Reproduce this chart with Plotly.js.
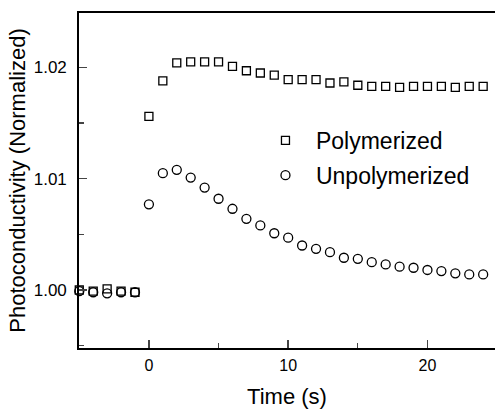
<!DOCTYPE html>
<html>
<head>
<meta charset="utf-8">
<script src="https://cdn.plot.ly/plotly-3.0.1.min.js"></script>
<style>html,body{margin:0;padding:0;background:#fff;}#chart{width:495px;height:409px;}</style>
</head>
<body>
<div id="chart"></div>
<script>
var timeS = [-5,-4,-3,-2,-1,0,1,2,3,4,5,6,7,8,9,10,11,12,13,14,15,16,17,18,19,20,21,22,23,24,25];
var polymerized = [1.0000,0.9999,1.0001,0.9999,0.9998,1.0156,1.0188,1.0204,1.0205,1.0205,1.0205,1.0201,1.0197,1.0195,1.0193,1.0189,1.0189,1.0189,1.0186,1.0187,1.0184,1.0183,1.0183,1.0182,1.0183,1.0183,1.0183,1.0182,1.0183,1.0183,1.0183];
var unpolymerized = [0.9999,0.9998,0.9997,0.9998,0.9998,1.0077,1.0105,1.0108,1.0101,1.0092,1.0082,1.0073,1.0064,1.0058,1.0051,1.0047,1.0040,1.0037,1.0034,1.0029,1.0028,1.0025,1.0023,1.0021,1.0020,1.0018,1.0017,1.0015,1.0014,1.0014,1.0013];
var seriesNames = ['Polymerized','Unpolymerized'];
var xTitle = 'Time (s)';
var yTitle = 'Photoconductivity (Normalized)';

var traces = [
  {x: timeS, y: unpolymerized, name: seriesNames[1], type:'scatter', mode:'markers', legendrank: 2, legendgroup:'b',
   cliponaxis:false, marker:{symbol:'circle-open', size:9, color:'#000', line:{width:1.3, color:'#000'}}},
  {x: timeS, y: polymerized, name: seriesNames[0], type:'scatter', mode:'markers', legendrank: 1, legendgroup:'a',
   cliponaxis:false, marker:{symbol:'square-open', size:8, color:'#000', line:{width:1.3, color:'#000'}}}
];

var layout = {
  width:495, height:409,
  margin:{l:79, r:0, t:13, b:61},
  paper_bgcolor:'#fff', plot_bgcolor:'#fff',
  font:{family:'"Liberation Sans", Arial, sans-serif', color:'#000', size:16},
  showlegend:true,
  legend:{x:0.423, y:0.684, xanchor:'left', yanchor:'top', bgcolor:'rgba(0,0,0,0)',
          font:{size:23, color:'#000'}, tracegroupgap:2, itemwidth:51},
  xaxis:{range:[-5.02,24.85], tick0:0, dtick:10, ticks:'inside', ticklen:8, tickwidth:1.5,
         showgrid:false, zeroline:false, showline:true, linewidth:1.8, linecolor:'#000', mirror:true,
         minor:{dtick:5, ticks:'inside', ticklen:5, tickwidth:1.2, showgrid:false},
         ticklabelstandoff:2, tickfont:{size:16},
         title:{text:xTitle, font:{size:22}, standoff:16}},
  yaxis:{range:[0.99479,1.02489], tick0:1.0, dtick:0.01, tickformat:'.2f', ticks:'inside', ticklen:8, tickwidth:1.5,
         showgrid:false, zeroline:false, showline:true, linewidth:1.8, linecolor:'#000',
         minor:{dtick:0.005, ticks:'inside', ticklen:5, tickwidth:1.2, showgrid:false},
         ticklabelstandoff:7,
         tickfont:{size:17}, title:{text:yTitle, font:{size:22}, standoff:2}}
};
Plotly.newPlot('chart', traces, layout, {staticPlot:true, displayModeBar:false});
</script>
</body>
</html>
